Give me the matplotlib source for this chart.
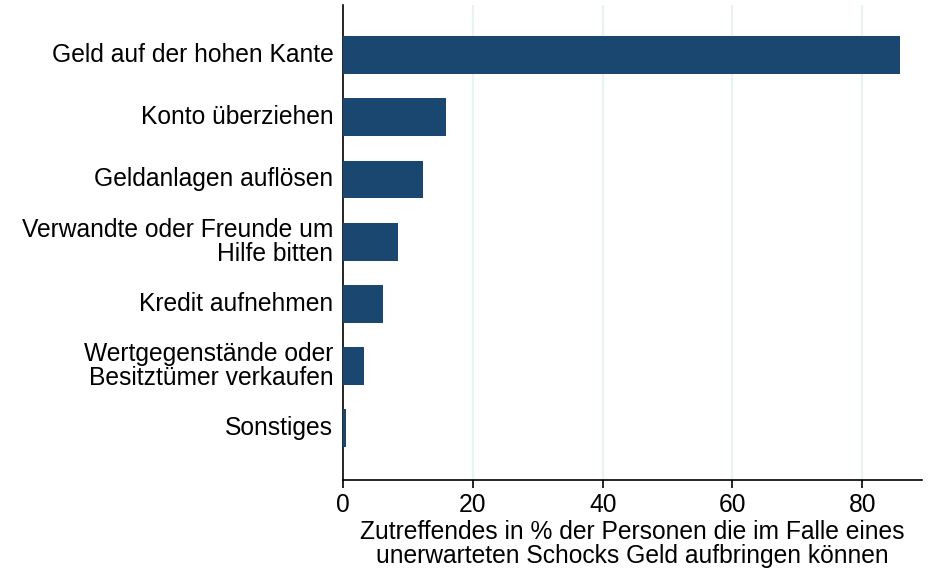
import matplotlib
matplotlib.use("Agg")
import matplotlib.pyplot as plt

categories = [
    "Geld auf der hohen Kante",
    "Konto überziehen",
    "Geldanlagen auflösen",
    "Verwandte oder Freunde um\nHilfe bitten",
    "Kredit aufnehmen",
    "Wertgegenstände oder\nBesitztümer verkaufen",
    "Sonstiges",
]
values = [85.8, 15.8, 12.4, 8.4, 6.1, 3.2, 0.5]
xticks = [0, 20, 40, 60, 80]
xlabel = "Zutreffendes in % der Personen die im Falle eines\nunerwarteten Schocks Geld aufbringen können"

plt.rcParams["font.family"] = ["Liberation Sans", "DejaVu Sans"]
FS = 17.7

fig = plt.figure(figsize=(9.35, 5.68), dpi=100)
ax = fig.add_axes([343/935, 1-480/568, (922-343)/935, (480-5)/568])

pos = list(range(len(categories)))
ax.barh(pos, values, height=0.61, color="#1a476f", zorder=3)
ax.set_ylim(len(categories) - 1 + 0.84, -0.81)
ax.set_xlim(0, 89.2)
ax.set_yticks(pos)
ax.set_yticklabels(categories, fontsize=FS, linespacing=1.0, va="center")
ax.tick_params(axis="y", length=0, pad=7)
ax.set_xticks(xticks)
ax.set_xticklabels([str(t) for t in xticks], fontsize=FS)
ax.tick_params(axis="x", length=6, width=1.2, pad=3)
for g in xticks[1:]:
    ax.axvline(g, color="#eaf2f3", lw=1.6, zorder=1)
ax.set_xlabel(xlabel, fontsize=FS, labelpad=2.5, linespacing=0.98)
for s in ["top", "right"]:
    ax.spines[s].set_visible(False)
for s in ["left", "bottom"]:
    ax.spines[s].set_linewidth(1.2)
    ax.spines[s].set_color("black")

fig.savefig("out.png", dpi=100, facecolor="white")
